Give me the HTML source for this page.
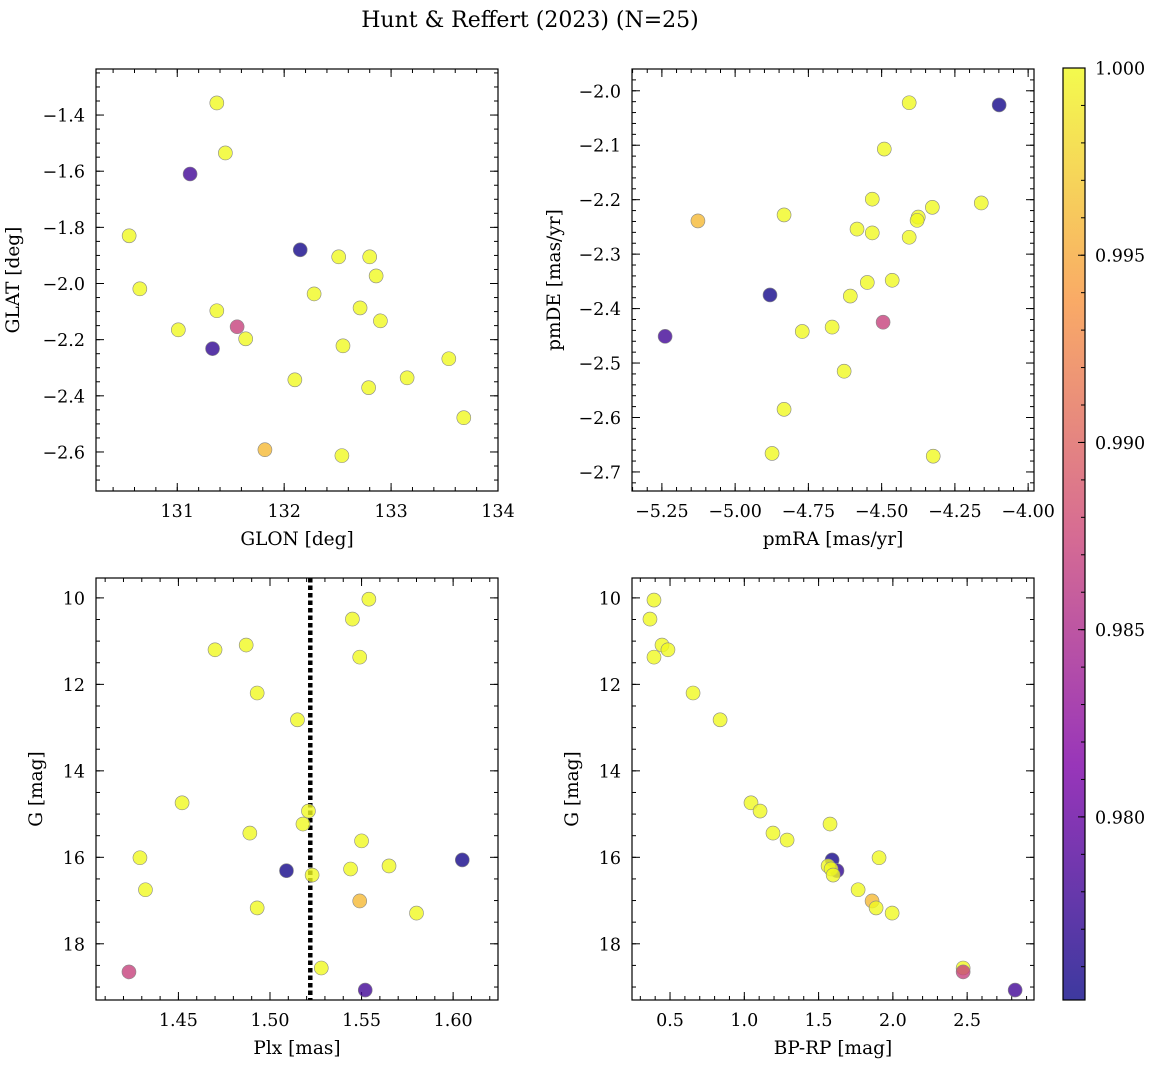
<!DOCTYPE html>
<html><head><meta charset="utf-8"><style>
body{margin:0;background:#fff;}
svg text{font-family:"DejaVu Serif","Liberation Serif",serif;fill:#000;}
</style></head><body>
<svg id="fig" width="1161" height="1068" xmlns="http://www.w3.org/2000/svg">
<defs>
<linearGradient id="plasma" x1="0" y1="1" x2="0" y2="0">
<stop offset="0" stop-color="#0d0887"/><stop offset="0.25" stop-color="#7e03a8"/><stop offset="0.5" stop-color="#cc4778"/><stop offset="0.75" stop-color="#f89540"/><stop offset="1" stop-color="#f0f921"/>
</linearGradient>
</defs>
<text x="530" y="27" font-size="22" text-anchor="middle">Hunt &amp; Reffert (2023) (N=25)</text>
</svg>
<script>
// colour (probability) values
const cTL=[1,1,0.978,1,1,0.9755,1,1,1,1,1,1,1,1,0.987,0.977,1,1,1,1,1,1,1,0.996,1];
const glon=[131.37,131.45,131.12,130.55,130.65,132.15,132.51,132.80,132.86,132.28,132.71,131.37,132.90,131.01,131.56,131.33,131.64,132.55,132.10,132.79,133.15,133.54,133.68,131.82,132.54];
const glat=[-1.357,-1.535,-1.610,-1.830,-2.019,-1.880,-1.905,-1.905,-1.973,-2.037,-2.087,-2.097,-2.133,-2.165,-2.154,-2.232,-2.197,-2.222,-2.343,-2.371,-2.336,-2.268,-2.478,-2.592,-2.613];
const cTR=[1,0.9755,1,1,1,1,1,0.996,1,1,1,1,1,1,1,0.9755,1,1,1,0.987,0.978,1,1,1,1];
const pmra=[-4.406,-4.099,-4.491,-4.532,-4.160,-4.327,-4.833,-5.127,-4.375,-4.379,-4.584,-4.532,-4.406,-4.549,-4.464,-4.881,-4.607,-4.669,-4.771,-4.495,-5.239,-4.628,-4.833,-4.874,-4.324];
const pmde=[-2.022,-2.026,-2.107,-2.199,-2.206,-2.214,-2.228,-2.239,-2.232,-2.238,-2.254,-2.261,-2.269,-2.352,-2.348,-2.375,-2.377,-2.434,-2.442,-2.425,-2.451,-2.515,-2.585,-2.666,-2.671];
const cBL=[1,1,1,1,1,1,1,1,1,1,1,1,1,0.9755,1,1,0.9755,1,1,0.996,1,1,1,0.987,0.978];
const plx=[1.554,1.545,1.487,1.470,1.549,1.493,1.515,1.521,1.518,1.452,1.489,1.550,1.429,1.509,1.544,1.565,1.605,1.523,1.432,1.549,1.493,1.580,1.528,1.423,1.552];
const gBL=[10.03,10.49,11.09,11.20,11.37,12.20,12.82,14.93,15.23,14.74,15.44,15.62,16.01,16.31,16.27,16.20,16.06,16.41,16.75,17.01,17.17,17.29,18.56,18.65,19.07];
const cBR=[1,1,1,1,1,1,1,1,1,1,1,1,0.9755,0.977,1,1,1,1,1,0.996,1,1,1,0.987,0.978];
const bprp=[0.392,0.365,0.446,0.486,0.392,0.655,0.837,1.045,1.106,1.193,1.288,1.577,1.591,1.624,1.564,1.584,1.598,1.907,1.766,1.860,1.887,1.995,2.473,2.473,2.823];
const gBR=[10.05,10.49,11.09,11.20,11.37,12.20,12.82,14.74,14.93,15.44,15.60,15.23,16.06,16.31,16.20,16.27,16.41,16.01,16.75,17.01,17.17,17.29,18.56,18.65,19.07];
const plxRef=[1.522];
const cbTicks=[0.980,0.985,0.990,0.995,1.000];
const CMIN=0.97511, CMAX=1.0;

const NS='http://www.w3.org/2000/svg';
const svg=document.getElementById('fig');
function el(t,a,p){const e=document.createElementNS(NS,t);for(const k in a)e.setAttribute(k,a[k]);(p||svg).appendChild(e);return e;}
const stops=[[0,[13,8,135]],[0.25,[126,3,168]],[0.5,[204,71,120]],[0.75,[248,149,64]],[1,[240,249,33]]];
function plasma(v){let t=(v-CMIN)/(CMAX-CMIN);t=Math.max(0,Math.min(1,t));
 for(let i=0;i<4;i++){const a=stops[i],b=stops[i+1];if(t<=b[0]){const f=(t-a[0])/(b[0]-a[0]);return 'rgb('+a[1].map((c,j)=>Math.round(c+(b[1][j]-c)*f)).join(',')+')';}}return 'rgb(240,249,33)';}
function fmt(v,d){const s=v.toFixed(d);return s.replace('-','\u2212');}
const TFS=17.5, LFS=18.5;

function panel(o){
 const g=el('g',{});
 
 
 const sx=v=>o.x0+(v-o.xmin)/(o.xmax-o.xmin)*(o.x1-o.x0);
 const sy=o.yinv?(v=>o.y0+(v-o.ymin)/(o.ymax-o.ymin)*(o.y1-o.y0)):(v=>o.y1-(v-o.ymin)/(o.ymax-o.ymin)*(o.y1-o.y0));
 function ticks(min,max,step){const a=[];const s=Math.ceil(min/step-1e-9);for(let i=s;i*step<=max+1e-9;i++)a.push(i*step);return a;}
 ticks(o.xmin,o.xmax,o.xminor).forEach(v=>{const x=sx(v);el('line',{x1:x,x2:x,y1:o.y1,y2:o.y1-4,stroke:'#000'},g);el('line',{x1:x,x2:x,y1:o.y0,y2:o.y0+4,stroke:'#000'},g);});
 ticks(o.xmin,o.xmax,o.xmajor).forEach(v=>{const x=sx(v);el('line',{x1:x,x2:x,y1:o.y1,y2:o.y1-8,stroke:'#000'},g);el('line',{x1:x,x2:x,y1:o.y0,y2:o.y0+8,stroke:'#000'},g);
  const t=el('text',{x:x,y:o.y1+26,'font-size':TFS,'text-anchor':'middle'},g);t.textContent=fmt(v,o.xd);
  
  });
 ticks(Math.min(o.ymin,o.ymax),Math.max(o.ymin,o.ymax),o.yminor).forEach(v=>{const y=sy(v);el('line',{x1:o.x0,x2:o.x0+4,y1:y,y2:y,stroke:'#000'},g);el('line',{x1:o.x1,x2:o.x1-4,y1:y,y2:y,stroke:'#000'},g);});
 ticks(Math.min(o.ymin,o.ymax),Math.max(o.ymin,o.ymax),o.ymajor).forEach(v=>{const y=sy(v);el('line',{x1:o.x0,x2:o.x0+8,y1:y,y2:y,stroke:'#000'},g);el('line',{x1:o.x1,x2:o.x1-8,y1:y,y2:y,stroke:'#000'},g);
  const t=el('text',{x:o.x0-11,y:y+6.5,'font-size':TFS,'text-anchor':'end'},g);t.textContent=fmt(v,o.yd);
  
  });
 if(o.vline){o.vline.forEach(v=>{const l=el('line',{x1:sx(v),x2:sx(v),y1:o.y0,y2:o.y1,stroke:'#000','stroke-width':4.5,'stroke-dasharray':'4.5,3'},g);
  
  });}
 o.xs.forEach((v,i)=>{const c=el('circle',{cx:sx(v),cy:sy(o.ys[i]),r:7,fill:plasma(o.cs[i]),'fill-opacity':0.8,stroke:'#888','stroke-width':0.6},g);
  
  });
 const f=el('rect',{x:o.x0,y:o.y0,width:o.x1-o.x0,height:o.y1-o.y0,fill:'none',stroke:'#000','stroke-width':1.2},g);
 
 
 const xl=el('text',{x:(o.x0+o.x1)/2,y:o.y1+54,'font-size':LFS,'text-anchor':'middle'},g);xl.textContent=o.xlabel;
 
 
 const yx=o.x0-o.ylo, yy=(o.y0+o.y1)/2;
 const yl=el('text',{x:yx,y:yy,'font-size':LFS,'text-anchor':'middle',transform:'rotate(-90 '+yx+' '+yy+')'},g);yl.textContent=o.ylabel;
 
 
}
panel({name:'glon-glat-panel',x0:96,x1:498,y0:69,y1:491,xmin:130.24,xmax:134.0,ymin:-2.739,ymax:-1.236,xmajor:1,xminor:0.2,ymajor:0.2,yminor:0.05,xd:0,yd:1,xs:glon,ys:glat,cs:cTL,xlabel:'GLON [deg]',ylabel:'GLAT [deg]',ylo:77});
panel({name:'proper-motion-panel',x0:632,x1:1034,y0:69,y1:491,xmin:-5.352,xmax:-3.98,ymin:-2.735,ymax:-1.96,xmajor:0.25,xminor:0.05,ymajor:0.1,yminor:0.02,xd:2,yd:1,xs:pmra,ys:pmde,cs:cTR,xlabel:'pmRA [mas/yr]',ylabel:'pmDE [mas/yr]',ylo:72});
panel({name:'plx-g-panel',x0:96,x1:498,y0:578,y1:1000,xmin:1.405,xmax:1.6245,ymin:9.54,ymax:19.3,yinv:true,xmajor:0.05,xminor:0.01,ymajor:2,yminor:0.5,xd:2,yd:0,xs:plx,ys:gBL,cs:cBL,xlabel:'Plx [mas]',ylabel:'G [mag]',ylo:54,vline:plxRef});
panel({name:'cmd-panel',x0:632,x1:1034,y0:578,y1:1000,xmin:0.244,xmax:2.95,ymin:9.54,ymax:19.3,yinv:true,xmajor:0.5,xminor:0.1,ymajor:2,yminor:0.5,xd:1,yd:0,xs:bprp,ys:gBR,cs:cBR,xlabel:'BP-RP [mag]',ylabel:'G [mag]',ylo:54});

// colorbar
const cb=el('g',{});


const CB={x0:1063,x1:1085,y0:68,y1:1000};
const cy=v=>CB.y1-(v-CMIN)/(CMAX-CMIN)*(CB.y1-CB.y0);
el('rect',{x:CB.x0,y:CB.y0,width:CB.x1-CB.x0,height:CB.y1-CB.y0,fill:'url(#plasma)','fill-opacity':0.8},cb);
for(let v=0.976;v<=1.00001;v+=0.001){const y=cy(v);el('line',{x1:CB.x1,x2:CB.x1-4,y1:y,y2:y,stroke:'#000'},cb);}
cbTicks.forEach(v=>{const y=cy(v);el('line',{x1:CB.x1,x2:CB.x1-7,y1:y,y2:y,stroke:'#000'},cb);
 const t=el('text',{x:CB.x1+10,y:y+6.5,'font-size':TFS},cb);t.textContent=v.toFixed(3);
 
 });
el('rect',{x:CB.x0,y:CB.y0,width:CB.x1-CB.x0,height:CB.y1-CB.y0,fill:'none',stroke:'#000','stroke-width':1.2},cb);
</script>
</body></html>
